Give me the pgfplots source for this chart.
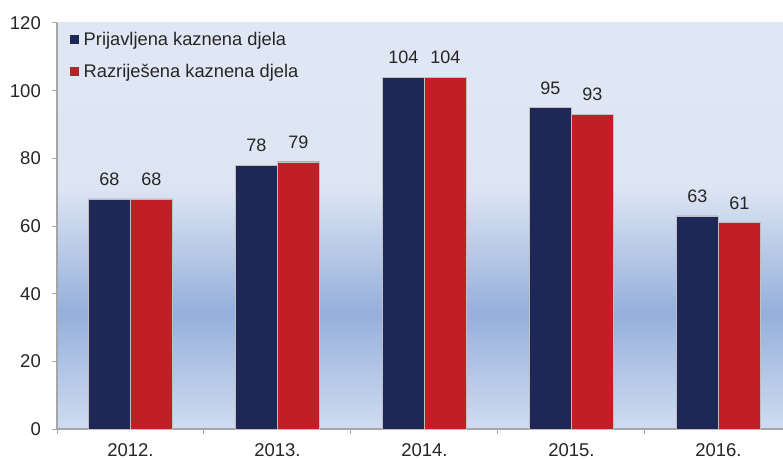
\documentclass[border=0pt]{standalone}
\usepackage{fontspec}
\setmainfont{Liberation Sans}
\usepackage{pgfplots}
\pgfplotsset{compat=1.18}
\definecolor{navybar}{HTML}{1F2757}
\definecolor{redbar}{HTML}{C01F26}
\definecolor{bgtop}{HTML}{E0E7F4}
\definecolor{bgmid}{HTML}{DDE5F3}
\definecolor{bgblue}{HTML}{95AFDB}
\definecolor{bgbot}{HTML}{D0DCF0}
\definecolor{axisgray}{HTML}{A6A6A6}
\definecolor{txt}{HTML}{262626}
% bottom -> top, the 25bp..75bp band is fitted to the axis box
\pgfdeclareverticalshading{plotbg}{100bp}{color(0bp)=(bgbot); color(25bp)=(bgbot);
  color(39.3bp)=(bgblue); color(54.8bp)=(bgmid); color(75bp)=(bgtop); color(100bp)=(bgtop)}

\begin{document}
\begin{tikzpicture}
\begin{axis}[
  at={(57pt,30pt)}, anchor=south west,
  scale only axis, width=726pt, height=406pt,
  ybar=0pt, bar width=42pt,
  xmin=-0.5, xmax=4.439, ymin=0, ymax=120,
  ytick={0,20,...,120},
  xtick={0,...,4}, xticklabels={2012.,2013.,2014.,2015.,2016.},
  minor xtick={-0.5,0.5,...,4.5},
  major x tick style={draw=none},
  tick align=outside, major tick length=5pt, minor tick length=5pt,
  axis x line*=bottom, axis y line*=left,
  axis line style={axisgray, line width=1.2pt, -},
  tick style={axisgray, line width=1pt},
  axis background/.style={shading=plotbg},
  /pgf/number format/assume math mode=true,
  every tick label/.append style={font=\fontsize{18.5}{21}\selectfont, text=txt},
  yticklabel style={anchor=east, inner sep=0pt, xshift=-11pt},
  xticklabel style={anchor=north, inner sep=0pt, yshift=-9pt},
  nodes near coords,
  nodes near coords style={font=\fontsize{18}{21}\selectfont, text=txt, inner sep=0pt, anchor=south, yshift=13pt},
  legend image code/.code={\fill[#1,draw=none] (0pt,-4.25pt) rectangle (8.5pt,4.25pt);},
  legend cell align=left,
  legend style={at={(axis description cs:0,1)}, anchor=north west, xshift=13pt, yshift=-9pt,
    draw=none, fill=none, inner sep=0pt, row sep=17pt, column sep=5pt,
    font=\fontsize{18.3}{21}\selectfont, nodes={inner sep=0pt, text=txt}},
]
\addplot[fill=navybar, draw=gray!50, line width=0.4pt] coordinates {(0,68) (1,78) (2,104) (3,95) (4,63)};
\addplot[fill=redbar, draw=gray!50, line width=0.4pt] coordinates {(0,68) (1,79) (2,104) (3,93) (4,61)};
\legend{Prijavljena kaznena djela, Razriješena kaznena djela}
\end{axis}
\pgfresetboundingbox
\useasboundingbox (0,0) rectangle (783pt,459pt);
\end{tikzpicture}
\end{document}
